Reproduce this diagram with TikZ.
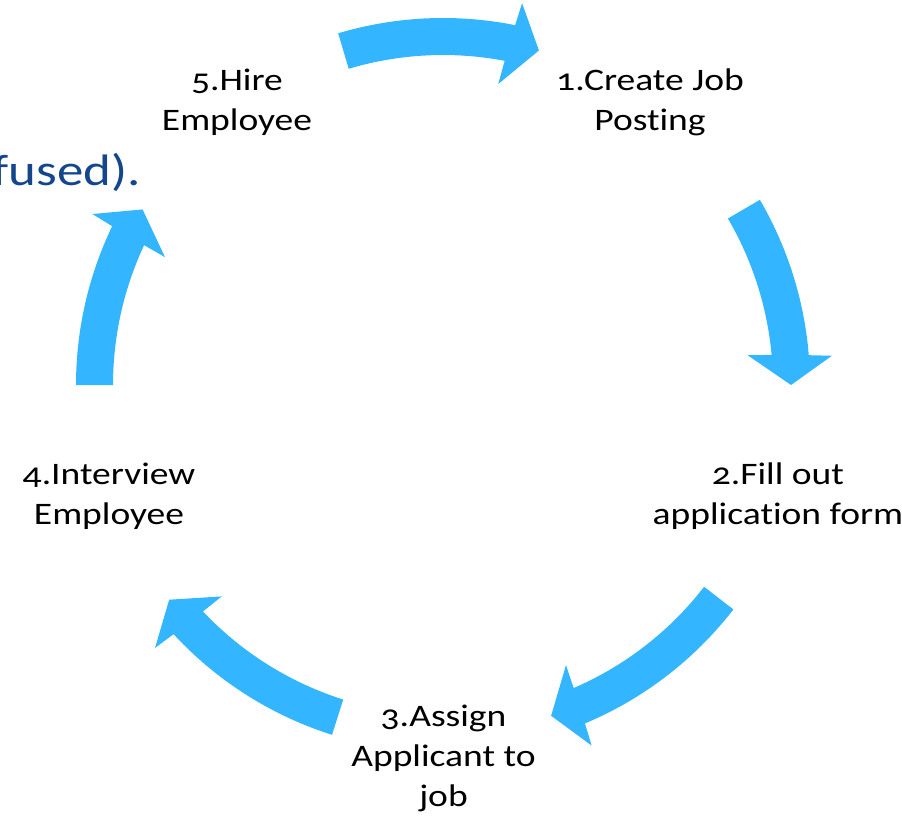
\documentclass[tikz,border=0pt]{standalone}
\usepackage{fontspec}
\setmainfont{Carlito}[FakeStretch=1.2, Numbers=OldStyle, Ligatures=NoCommon]
\definecolor{cycleblue}{HTML}{33B5FF}
\definecolor{noteblue}{HTML}{13468C}

\tikzset{
  % base anchor sits on the baseline of the last line
  steplabel/.style={align=center, inner sep=0pt, anchor=base, text=black,
    font=\fontsize{26.7}{34.1}\selectfont},
  cyclefill/.style={fill=cycleblue, draw=none},
}

% Curved block arrow on the cycle ring: #1 = start angle, #2 = tip angle
% (angles grow clockwise, radii in px from the ring centre)
\newcommand\cyclearrow[2]{%
  \pgfmathsetmacro\arrA{#2-4.66}%
  \pgfmathsetmacro\arrB{#2-4.3}%
  \pgfmathsetmacro\arrC{#2-5.6}%
  \pgfmathsetmacro\arrD{#2-5.23}%
  \fill[cyclefill] plot[domain=#1:\arrA, samples=40] (\x:367)
    -- (\arrB:390) -- (#2:348) -- (\arrC:306)
    -- plot[domain=\arrD:#1, samples=40] (\x:330) -- cycle;
}

\begin{document}
\begin{tikzpicture}[x=0.03cm, y=-0.03cm]
  \clip (0,0) rectangle (902,815);

  % ring of arrows
  \begin{scope}[shift={(443,385)}]
    \cyclearrow{253.4}{286}
    \cyclearrow{-30.3}{0}
    \cyclearrow{37.7}{71.9}
    \cyclearrow{107.6}{141.9}
    \cyclearrow{180}{210.3}
  \end{scope}

  % step labels
  \node[steplabel] (s1) at (650,130.7) {1.Create Job\\Posting};
  \node[steplabel] (s2) at (778,524) {2.Fill out\\application form};
  \node[steplabel] (s3) at (443.5,806) {3.Assign\\Applicant to\\job};
  \node[steplabel] (s4) at (109,524) {4.Interview\\Employee};
  \node[steplabel] (s5) at (237,130) {5.Hire\\Employee};

  % text running in from the left edge
  \node[anchor=base east, inner sep=0pt, text=noteblue,
        font=\fontsize{37.6}{45}\selectfont] (note) at (141,185) {fused).};
\end{tikzpicture}
\end{document}
